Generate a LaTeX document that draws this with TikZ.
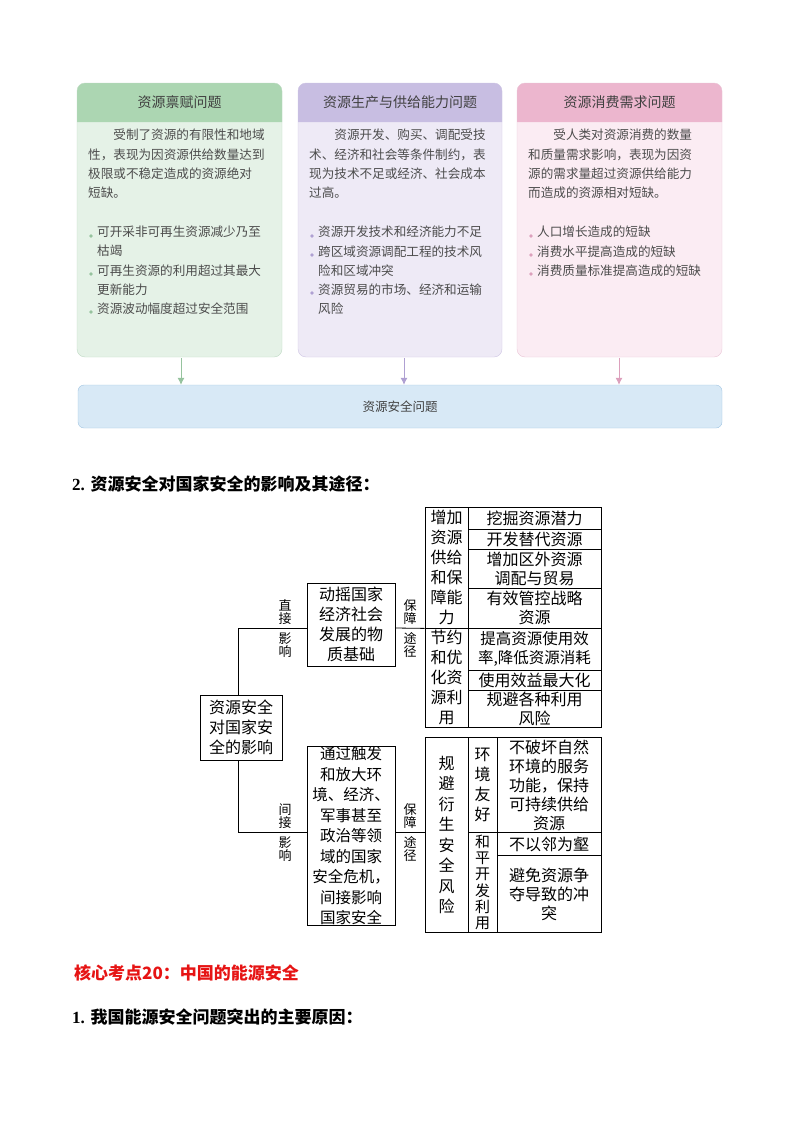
\documentclass[tikz,border=0pt]{standalone}
\usepackage{fontspec}
\usetikzlibrary{arrows.meta}
\setmainfont{Noto Sans CJK SC}
\newfontfamily\serifd{Liberation Serif}
\begin{document}
\begin{tikzpicture}[x=1pt,y=-1pt,
  hdr/.style={font=\fontsize{14}{16}\selectfont, text=black!75},
  body/.style={anchor=north west, align=left, font=\fontsize{12.6}{19.2}\selectfont, text=black!70, inner sep=0},
  tb/.style={draw, thick, inner sep=0, align=center, font=\fontsize{16}{20}\selectfont},
  lab/.style={inner sep=0, align=center, font=\fontsize{13}{13}\selectfont},
  conn/.style={thick},
  dot/.style={circle, inner sep=1.3pt}]
\useasboundingbox (0,0) rectangle (800,1132);
\definecolor{gH}{RGB}{172,214,178}\definecolor{gB}{RGB}{229,242,231}\definecolor{gL}{RGB}{150,195,158}
\definecolor{pH}{RGB}{200,190,226}\definecolor{pB}{RGB}{238,234,246}\definecolor{pL}{RGB}{175,160,210}
\definecolor{kH}{RGB}{236,182,206}\definecolor{kB}{RGB}{251,236,243}\definecolor{kL}{RGB}{220,160,188}
\definecolor{bB}{RGB}{216,233,246}\definecolor{bL}{RGB}{160,196,226}
% top boxes
\foreach \xa/\xb/\H/\B/\L in {77/282/gH/gB/gL, 298/502/pH/pB/pL, 517/722/kH/kB/kL}{
  \fill[\B, rounded corners=8] (\xa,83) rectangle (\xb,357);
  \fill[\H] (\xa,122) {[rounded corners=8] -- (\xa,83) -- (\xb,83)} -- (\xb,122) -- cycle;
  \draw[\L!60, rounded corners=8] (\xa,83) rectangle (\xb,357);
}
\node[hdr] (h1) at (179.5,102) {资源禀赋问题};
\node[hdr] (h2) at (400,102) {资源生产与供给能力问题};
\node[hdr] (h3) at (619.5,102) {资源消费需求问题};
\node[body] (p1) at (88,129) {\hspace*{2em}受制了资源的有限性和地域\\性，表现为因资源供给数量达到\\极限或不稳定造成的资源绝对\\短缺。};
\node[body] (p2) at (309,129) {\hspace*{2em}资源开发、购买、调配受技\\术、经济和社会等条件制约，表\\现为技术不足或经济、社会成本\\过高。};
\node[body] (p3) at (528,129) {\hspace*{2em}受人类对资源消费的数量\\和质量需求影响，表现为因资\\源的需求量超过资源供给能力\\而造成的资源相对短缺。};
\node[body] (b1) at (97,226) {可开采非可再生资源减少乃至\\枯竭\\可再生资源的利用超过其最大\\更新能力\\资源波动幅度超过安全范围};
\node[body] (b2) at (318,226) {资源开发技术和经济能力不足\\跨区域资源调配工程的技术风\\险和区域冲突\\资源贸易的市场、经济和运输\\风险};
\node[body] (b3) at (537,226) {人口增长造成的短缺\\消费水平提高造成的短缺\\消费质量标准提高造成的短缺};
\foreach \y in {236,274,312} \node[dot, fill=gL] at (91,\y) {};
\foreach \y in {236,255,293} \node[dot, fill=pL] at (312,\y) {};
\foreach \y in {236,255,274} \node[dot, fill=kL] at (531,\y) {};
% bottom box
\node[draw=bL, fill=bB, rounded corners=6, minimum width=644, minimum height=43, font=\fontsize{12.5}{14}\selectfont, text=black!75] (sec) at (400,406.5) {资源安全问题};
\coordinate (a1) at (181,358);\coordinate (a2) at (404,358);\coordinate (a3) at (619,358);
\draw[gL, thick, -{Latex[length=7pt,width=7pt]}] (a1) -- (sec.north -| a1);
\draw[pL, thick, -{Latex[length=7pt,width=7pt]}] (a2) -- (sec.north -| a2);
\draw[kL, thick, -{Latex[length=7pt,width=7pt]}] (a3) -- (sec.north -| a3);
% headings
\node[anchor=west, inner sep=0, font=\fontsize{17}{20}\selectfont\bfseries] (t1) at (72,484) {{\serifd 2. }资源安全对国家安全的影响及其途径：};
\node[anchor=west, inner sep=0, font=\fontsize{17}{20}\selectfont\bfseries, text={rgb,255:red,230;green,20;blue,20}] (t2) at (74,973) {核心考点20：中国的能源安全};
\node[anchor=west, inner sep=0, font=\fontsize{17}{20}\selectfont\bfseries] (t3) at (72,1017) {{\serifd 1. }我国能源安全问题突出的主要原因：};
% tree
\node[tb, minimum width=82, minimum height=65] (root) at (241,727.5) {资源安全\\对国家安\\全的影响};
\node[tb, minimum width=88, minimum height=83] (up) at (351,624.5) {动摇国家\\经济社会\\发展的物\\质基础};
\node[tb, minimum width=88, minimum height=166, font=\fontsize{15.5}{20.5}\selectfont] (lo) at (351,836) {通过触发\\和放大环\\境、经济、\\军事甚至\\政治等领\\域的国家\\安全危机，\\间接影响\\国家安全};
\coordinate (ju) at (238,628);\coordinate (jl) at (238,832);
\draw[conn] (root.north -| ju) -- (ju) -- (up.west |- ju);
\draw[conn] (root.south -| jl) -- (jl) -- (lo.west |- jl);
\node[lab] (l1) at (285,612) {直\\接};\node[lab] (l2) at (285,645) {影\\响};
\node[lab] (l3) at (285,816) {间\\接};\node[lab] (l4) at (285,849) {影\\响};
\node[lab] (l5) at (410,612) {保\\障};\node[lab] (l6) at (410,645) {途\\径};
\node[lab] (l7) at (410,816) {保\\障};\node[lab] (l8) at (410,849) {途\\径};
% upper table
\node[tb, minimum width=43, minimum height=121] (c1) at (446.5,567.5) {增加\\资源\\供给\\和保\\障能\\力};
\node[tb, minimum width=43, minimum height=99] (c2) at (446.5,677.5) {节约\\和优\\化资\\源利\\用};
\node[tb, minimum width=133, minimum height=22] (r1) at (534.5,518) {挖掘资源潜力};
\node[tb, minimum width=133, minimum height=20] (r2) at (534.5,539) {开发替代资源};
\node[tb, minimum width=133, minimum height=39, font=\fontsize{16}{19}\selectfont] (r3) at (534.5,568.5) {增加区外资源\\调配与贸易};
\node[tb, minimum width=133, minimum height=40, font=\fontsize{16}{19}\selectfont] (r4) at (534.5,608) {有效管控战略\\资源};
\node[tb, minimum width=133, minimum height=42, font=\fontsize{15.5}{19}\selectfont] (r5) at (534.5,649) {提高资源使用效\\率,降低资源消耗};
\node[tb, minimum width=133, minimum height=20] (r6) at (534.5,680) {使用效益最大化};
\node[tb, minimum width=133, minimum height=37, font=\fontsize{16}{19}\selectfont] (r7) at (534.5,708.5) {规避各种利用\\风险};
\draw[conn] (up.east |- ju) -- (c1.south west);
% lower table
\node[tb, minimum width=43, minimum height=195, font=\fontsize{16}{20.5}\selectfont] (d1) at (446.5,835) {规\\避\\衍\\生\\安\\全\\风\\险};
\node[tb, minimum width=29, minimum height=95] (e1) at (482.5,785) {环\\境\\友\\好};
\node[tb, minimum width=29, minimum height=100, font=\fontsize{15}{16.3}\selectfont] (e2) at (482.5,882.5) {和\\平\\开\\发\\利\\用};
\node[tb, minimum width=104, minimum height=95, font=\fontsize{16}{19}\selectfont] (f1) at (549,785) {不破坏自然\\环境的服务\\功能，保持\\可持续供给\\资源};
\node[tb, minimum width=104, minimum height=23] (f2) at (549,844) {不以邻为壑};
\node[tb, minimum width=104, minimum height=77, font=\fontsize{16}{19}\selectfont] (f3) at (549,894) {避免资源争\\夺导致的冲\\突};
\draw[conn] (lo.east |- jl) -- (d1.west |- jl);
\end{tikzpicture}
\end{document}
